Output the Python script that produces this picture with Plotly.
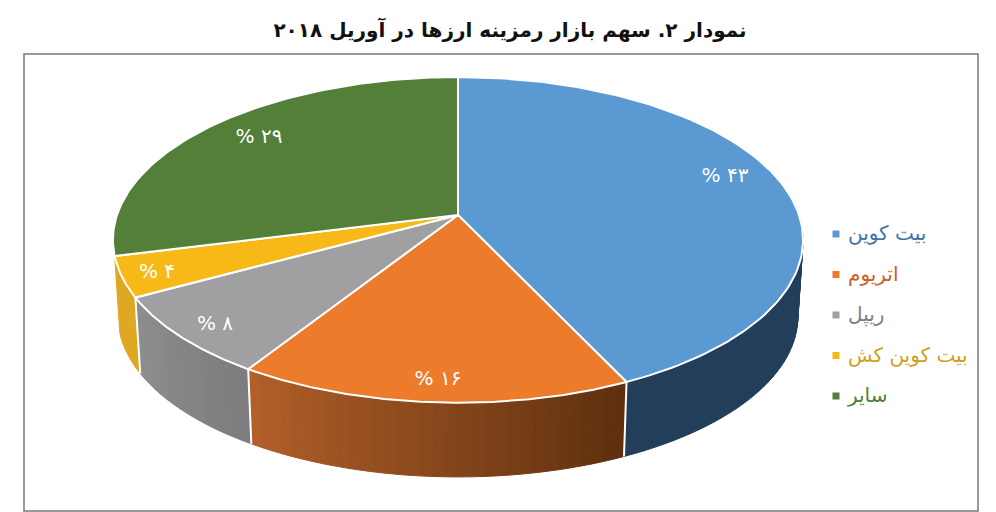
#!/usr/bin/env python

import numpy as np
import plotly.graph_objects as go

title = "نمودار ۲. سهم بازار رمزینه ارزها در آوریل ۲۰۱۸"
names = ["بیت کوین", "اتریوم", "ریپل", "بیت کوین کش", "سایر"]
shares = [43, 16, 8, 4, 29]

top_colors = ["#5b99d2", "#ec7b2c", "#a0a0a2", "#f7b917", "#537f38"]
side_from = ["#223e5b", "#5f300f", "#7d7d7f", "#dfa722"]
side_to = ["#223e5b", "#b5612a", "#8f8f91", "#dfa722"]
legend_colors = ["#3f74a8", "#c9612b", "#7f7f82", "#cf9f1f", "#4f7f3a"]

# the pie is a tilted disc, the axes below are simply page pixels
cx, cy = 458, 215
rx, ry, tilt = 341, 159, 0.153
shrink, depth = 0.985, 77


def rim(t):
    x, y = np.sin(t), np.cos(t)
    d = 1 + tilt * y
    return rx * x / d, -ry * y / d


def hex_mix(a, b, f):
    ca = [int(a[i:i + 2], 16) for i in (1, 3, 5)]
    cb = [int(b[i:i + 2], 16) for i in (1, 3, 5)]
    return "rgb(%d,%d,%d)" % tuple(p + (q - p) * f for p, q in zip(ca, cb))


fig = go.Figure()
edges = 2 * np.pi * np.cumsum([0] + shares) / sum(shares)

# outer wall first, the top of the pie covers the back of it
# the last slice faces away, so it has no wall
for i in range(len(side_from)):
    a, b = edges[i], edges[i + 1]
    steps = np.linspace(a, b, max(2, int((b - a) / 0.03)))
    for j in range(len(steps) - 1):
        if np.cos(steps[j]) > 0.2 and np.cos(steps[j + 1]) > 0.2:
            continue
        xa, ya = rim(steps[j])
        xb, yb = rim(steps[j + 1])
        col = hex_mix(side_from[i], side_to[i], j / (len(steps) - 1))
        fig.add_scatter(
            x=[cx + xa, cx + xb, cx + xb * shrink, cx + xa * shrink, cx + xa],
            y=[cy + ya, cy + yb, cy + yb * shrink + depth, cy + ya * shrink + depth, cy + ya],
            mode="lines", fill="toself", fillcolor=col, line=dict(color=col, width=1),
        )

# white seams between the walls
for e in edges[1:4]:
    xe, ye = rim(e)
    fig.add_scatter(
        x=[cx + xe, cx + xe * shrink], y=[cy + ye, cy + ye * shrink + depth],
        mode="lines", line=dict(color="white", width=2),
    )

for i in range(len(shares)):
    steps = np.linspace(edges[i], edges[i + 1], 120)
    xs, ys = rim(steps)
    fig.add_scatter(
        x=np.concatenate([[cx], cx + xs, [cx]]), y=np.concatenate([[cy], cy + ys, [cy]]),
        mode="lines", fill="toself", fillcolor=top_colors[i],
        line=dict(color="white", width=2),
    )

# value labels
digits = str.maketrans("0123456789", "۰۱۲۳۴۵۶۷۸۹")
label_x = [725, 438, 215, 157, 259]
label_y = [177, 380, 325, 273, 138]
fig.add_scatter(
    x=label_x, y=label_y, mode="text",
    text=["% " + str(v).translate(digits) for v in shares],
    textfont=dict(family="DejaVu Sans", size=20, color="white"),
)

# legend
legend_y = [234 + 40.5 * i for i in range(len(names))]
fig.add_scatter(
    x=[836] * len(names), y=legend_y, mode="markers",
    marker=dict(symbol="square", size=7, color=top_colors),
)
fig.add_scatter(
    x=[848] * len(names), y=[v + 1 for v in legend_y],
    mode="text", text=names, textposition="middle right",
    textfont=dict(family="DejaVu Sans", size=20, color=legend_colors),
)

fig.add_shape(type="rect", x0=24, y0=54, x1=978, y1=511, line=dict(color="#777777", width=1.5))

# the page keeps its 8px body margin, so the axes start at 8
fig.update_traces(showlegend=False, hoverinfo="skip")
fig.update_xaxes(range=[8, 996], visible=False)
fig.update_yaxes(range=[512, 8], visible=False)
fig.update_layout(
    width=988, height=504,
    margin=dict(l=0, r=0, t=0, b=0),
    paper_bgcolor="white", plot_bgcolor="white",
    title=dict(
        text=title, x=(510 - 8) / 988, xanchor="center", y=1 - (30 - 8) / 504, yanchor="middle",
        font=dict(family="DejaVu Sans", size=20, color="#111111", weight=700),
    ),
)

fig.write_html("out.html")
